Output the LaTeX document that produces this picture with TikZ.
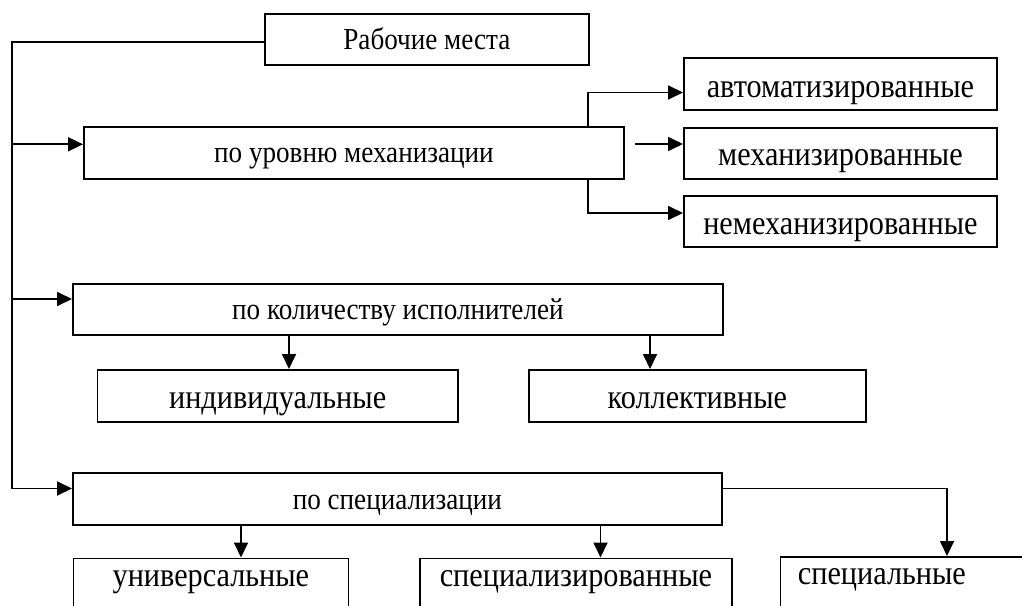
\documentclass[tikz,border=0pt]{standalone}
\usepackage{fontspec}
\setmainfont{Liberation Serif}
\newfontfamily\narrowserif[FakeStretch=0.89]{Liberation Serif}
\usetikzlibrary{arrows.meta}
\tikzset{
  box/.style={draw, line width=1.8pt, inner sep=0pt, anchor=north west},
  cat/.style={box, font=\narrowserif\fontsize{30.5}{34}\selectfont, text height=26pt, text depth=6pt},
  leaf/.style={box, font=\narrowserif\fontsize{34}{38}\selectfont, text height=33pt, text depth=7.4pt},
  lowleaf/.style={box, font=\narrowserif\fontsize{34}{38}\selectfont, text height=20pt, text depth=16.4pt},
  conn/.style={line width=1.8pt},
  arr/.style={line width=1.8pt, -{Triangle[length=15pt,width=14pt]}}
}
\begin{document}
\begin{tikzpicture}[x=1pt,y=-1pt]
\clip (0,0) rectangle (1022,605);
\fill[white] (0,0) rectangle (1022,605);
% category boxes
\node[cat, minimum width=324pt, minimum height=51.3pt] (root) at (264,12.7) {Рабочие места};
\node[cat, minimum width=540pt, minimum height=52pt] (mech) at (83,126) {по уровню механизации};
\node[cat, minimum width=650pt, minimum height=51pt] (kolvo) at (72,283.3) {по количеству исполнителей};
\node[cat, minimum width=649pt, minimum height=51.7pt] (spec) at (72,472.3) {по специализации};
% leaves
\node[leaf, minimum width=313pt, minimum height=52pt] (automat) at (683,57.3) {автоматизированные};
\node[leaf, minimum width=313pt, minimum height=51pt] (mechd) at (683,126.7) {механизированные};
\node[leaf, minimum width=313pt, minimum height=51pt] (nemech) at (683,195) {немеханизированные};
\node[leaf, minimum width=360.5pt, minimum height=52pt] (indiv) at (96.5,369) {индивидуальные};
\node[leaf, minimum width=337pt, minimum height=52pt] (coll) at (528,369) {коллективные};
\node[lowleaf, minimum width=275pt, minimum height=52pt] (univ) at (72.5,557.5) {универсальные};
\node[lowleaf, minimum width=312pt, minimum height=52pt] (specd) at (419,557.5) {специализированные};
\node[lowleaf, text width=260pt, minimum height=52pt, align=left] (special) at (779.5,556) {\makebox[203pt]{специальные}};
% trunk
\coordinate (tTop) at (12,41.7);
\coordinate (m1) at (12,144.3);
\coordinate (k1) at (12,299);
\coordinate (s1) at (12,488.5);
\draw[conn] (root.west|-tTop) -- (tTop) -- (s1);
\draw[arr] (m1) -- (mech.west|-m1);
\draw[arr] (k1) -- (kolvo.west|-k1);
\draw[arr] (s1) -- (spec.west|-s1);
% mechanisation branches
\coordinate (a1) at (588,92.5);
\coordinate (n1) at (588,213);
\coordinate (md1) at (635,144);
\draw[arr] (mech.north-|a1) -- (a1) -- (automat.west|-a1);
\draw[arr] (mech.south-|n1) -- (n1) -- (nemech.west|-n1);
\draw[arr] (md1) -- (mechd.west|-md1);
% number of workers
\coordinate (ki) at (289,0);
\coordinate (kc) at (650,0);
\draw[arr] (kolvo.south-|ki) -- (indiv.north-|ki);
\draw[arr] (kolvo.south-|kc) -- (coll.north-|kc);
% specialisation
\coordinate (su) at (241,0);
\coordinate (sd) at (600.5,0);
\coordinate (sp1) at (947,488.5);
\draw[arr] (spec.south-|su) -- (univ.north-|su);
\draw[arr] (spec.south-|sd) -- (specd.north-|sd);
\draw[arr] (spec.east|-sp1) -- (sp1) -- (special.north-|sp1);
\end{tikzpicture}
\end{document}
